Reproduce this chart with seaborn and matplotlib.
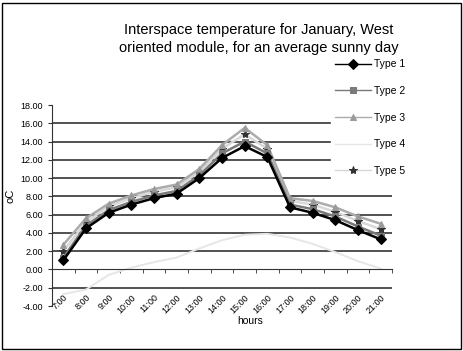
import matplotlib
matplotlib.use('Agg')
import matplotlib.pyplot as plt
import seaborn as sns
import pandas as pd
from matplotlib.ticker import MultipleLocator, FixedLocator

hours = ['7:00', '8:00', '9:00', '10:00', '11:00', '12:00', '13:00', '14:00',
         '15:00', '16:00', '17:00', '18:00', '19:00', '20:00', '21:00']
type1 = [1.0, 4.5, 6.2, 7.1, 7.8, 8.3, 10.0, 12.2, 13.5, 12.3, 6.8, 6.2, 5.4, 4.3, 3.3]
type2 = [1.3, 4.8, 6.5, 7.4, 8.1, 8.6, 10.3, 12.7, 14.0, 12.7, 7.1, 6.6, 5.8, 4.7, 3.7]
type3 = [2.7, 5.6, 7.2, 8.1, 8.8, 9.3, 11.0, 13.6, 15.5, 13.6, 7.8, 7.5, 6.8, 5.8, 5.0]
type4 = [-2.7, -2.2, -0.6, 0.2, 0.8, 1.3, 2.3, 3.2, 3.8, 3.9, 3.5, 2.8, 1.9, 0.9, 0.1]
type5 = [2.0, 5.2, 6.9, 7.8, 8.5, 9.0, 10.7, 13.2, 14.8, 13.2, 7.5, 7.1, 6.3, 5.3, 4.4]

series = {'Type 1': type1, 'Type 2': type2, 'Type 3': type3, 'Type 4': type4, 'Type 5': type5}
df = pd.DataFrame({'hours': hours, **series})

styles = {
    'Type 1': dict(color='black', marker='D', markersize=5, mfc='black', mec='black', lw=1.8),
    'Type 2': dict(color='#7a7a7a', marker='s', markersize=5, mfc='#7a7a7a', mec='#7a7a7a', lw=1.8),
    'Type 3': dict(color='#ababab', marker='^', markersize=5, mfc='#9a9a9a', mec='#9a9a9a', lw=1.8),
    'Type 4': dict(color='#e6e6e6', marker=None, lw=1.4),
    'Type 5': dict(color='#d8d8d8', marker='*', markersize=6, mfc='#333333', mec='#333333', lw=1.8),
}

plt.rcParams['font.family'] = ['Liberation Sans', 'DejaVu Sans']
fig = plt.figure(figsize=(4.64, 3.51), dpi=100)
ax = fig.add_axes([52 / 464, 1 - 306 / 351, 340 / 464, 201 / 351])

# gridlines like the excel sheet
for g in range(-2, 17, 2):
    if g != 0:
        ax.axhline(g, color='#333333', lw=1.2, zorder=0)

# draw in reverse so Type 1 sits on top
for name in ['Type 4', 'Type 5', 'Type 3', 'Type 2', 'Type 1']:
    st = styles[name]
    sns.lineplot(data=df, x='hours', y=name, sort=False, ax=ax, label=name,
                 color=st['color'], marker=st['marker'], markersize=st.get('markersize', 0),
                 markerfacecolor=st.get('mfc'), markeredgecolor=st.get('mec'),
                 linewidth=st['lw'], legend=False)

ax.set_ylim(-4, 18)
ax.set_xlim(-0.5, len(hours) - 0.5)
ax.yaxis.set_major_locator(MultipleLocator(2))
ax.yaxis.set_major_formatter(lambda v, p: f'{v:.2f}')

for s in ['top', 'right']:
    ax.spines[s].set_visible(False)
ax.spines['bottom'].set_position(('data', 0))
ax.spines['bottom'].set_color('#333333')
ax.spines['left'].set_color('#333333')

ax.set_xticks(range(len(hours)))
ax.set_xticklabels(hours)
ax.xaxis.set_minor_locator(FixedLocator([i + 0.5 for i in range(-1, len(hours))]))
ax.tick_params(axis='x', which='major', length=0, pad=17, labelsize=6.5)
ax.tick_params(axis='x', which='minor', length=3, color='#333333')
ax.tick_params(axis='y', length=3, labelsize=6.5, color='#333333')
plt.setp(ax.get_xticklabels(), rotation=45, ha='right', rotation_mode='anchor')

ax.set_xlabel('')
ax.set_ylabel('')
fig.text(250 / 464, 1 - 321 / 351, 'hours', ha='center', va='center', fontsize=7.5)
fig.text(11 / 464, 1 - 196 / 351, 'oC', ha='center', va='center', fontsize=8, rotation=90)
fig.text(259 / 464, 1 - 39 / 351,
         'Interspace temperature for January, West\noriented module, for an average sunny day',
         ha='center', va='center', fontsize=10.5, linespacing=1.45)

handles, labels = ax.get_legend_handles_labels()
order = [labels.index(n) for n in series]
leg = fig.legend([handles[i] for i in order], [labels[i] for i in order],
                 loc='upper left', bbox_to_anchor=(326 / 464, 1 - 50 / 351),
                 frameon=True, facecolor='white', edgecolor='white', framealpha=1,
                 fontsize=7.5, labelspacing=1.6, handlelength=3.4, handletextpad=0.3,
                 borderpad=0.4)
for ln in leg.get_lines():
    ln.set_linewidth(1.0)

fig.patches.append(plt.Rectangle((2 / 464, 2 / 351), 459 / 464, 346 / 351,
                                 transform=fig.transFigure, fill=False,
                                 edgecolor='black', lw=1))

fig.savefig('out.png', dpi=100)
